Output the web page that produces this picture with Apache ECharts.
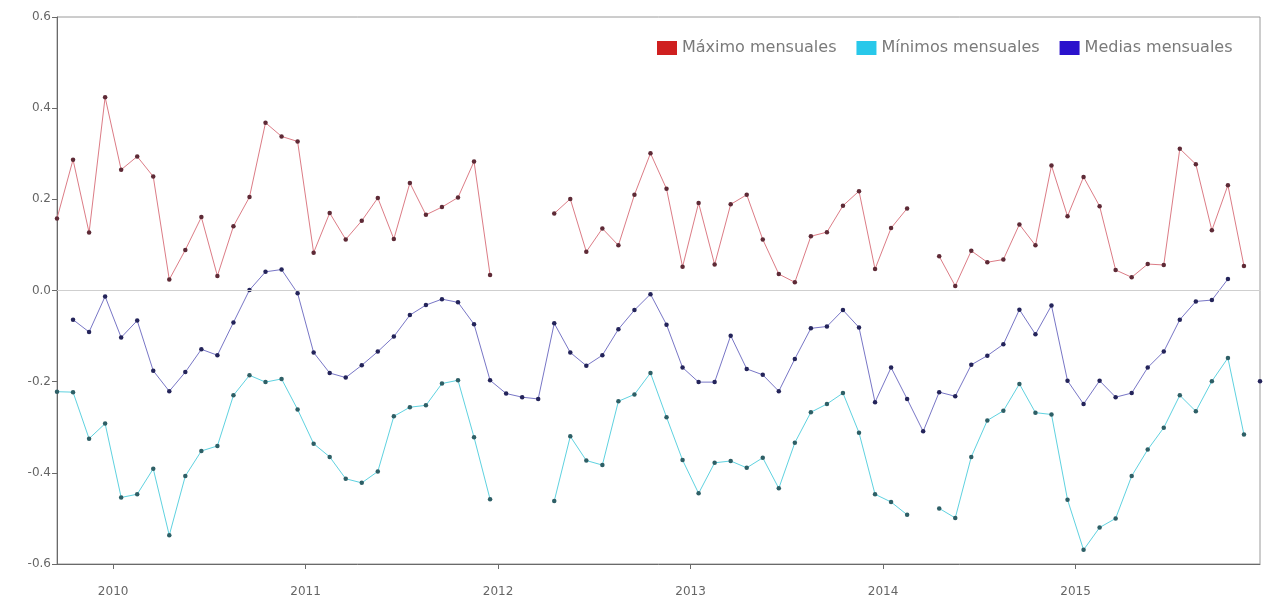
<!DOCTYPE html>
<html>
<head>
<meta charset="utf-8">
<script src="https://cdn.jsdelivr.net/npm/echarts@6/dist/echarts.min.js"></script>
<style>
html,body{margin:0;padding:0;background:#fff;}
#chart{width:1265px;height:608px;}
</style>
</head>
<body>
<div id="chart"></div>
<script>
// Monthly categories (Sep 2009 – Dec 2015)
const months = [
  '2009-09','2009-10','2009-11','2009-12',
  '2010-01','2010-02','2010-03','2010-04','2010-05','2010-06','2010-07','2010-08','2010-09','2010-10','2010-11','2010-12',
  '2011-01','2011-02','2011-03','2011-04','2011-05','2011-06','2011-07','2011-08','2011-09','2011-10','2011-11','2011-12',
  '2012-01','2012-02','2012-03','2012-04','2012-05','2012-06','2012-07','2012-08','2012-09','2012-10','2012-11','2012-12',
  '2013-01','2013-02','2013-03','2013-04','2013-05','2013-06','2013-07','2013-08','2013-09','2013-10','2013-11','2013-12',
  '2014-01','2014-02','2014-03','2014-04','2014-05','2014-06','2014-07','2014-08','2014-09','2014-10','2014-11','2014-12',
  '2015-01','2015-02','2015-03','2015-04','2015-05','2015-06','2015-07','2015-08','2015-09','2015-10','2015-11','2015-12'
];

const maxMensual = [
  0.158, 0.287, 0.127, 0.424,
  0.265, 0.294, 0.250, 0.024, 0.089, 0.161, 0.032, 0.141, 0.205, 0.368, 0.338, 0.327,
  0.083, 0.170, 0.112, 0.153, 0.203, 0.113, 0.236, 0.166, 0.183, 0.204, 0.283, 0.034,
  null, null, null, 0.169, 0.201, 0.085, 0.136, 0.099, 0.210, 0.301, 0.223, 0.052,
  0.192, 0.057, 0.189, 0.210, 0.112, 0.036, 0.018, 0.119, 0.128, 0.186, 0.218, 0.047,
  0.137, 0.180, null, 0.075, 0.010, 0.087, 0.062, 0.068, 0.145, 0.099, 0.274, 0.163,
  0.249, 0.185, 0.045, 0.029, 0.058, 0.056, 0.311, 0.277, 0.132, 0.231, 0.054, null
];

const minMensual = [
  -0.222, -0.223, -0.325, -0.292,
  -0.454, -0.447, -0.391, -0.537, -0.407, -0.352, -0.341, -0.230, -0.186, -0.201, -0.194, -0.261,
  -0.336, -0.365, -0.413, -0.422, -0.397, -0.276, -0.256, -0.252, -0.204, -0.197, -0.322, -0.458,
  null, null, null, -0.462, -0.320, -0.373, -0.383, -0.243, -0.228, -0.181, -0.278, -0.372,
  -0.445, -0.378, -0.374, -0.389, -0.367, -0.434, -0.334, -0.267, -0.249, -0.225, -0.312, -0.447,
  -0.464, -0.492, null, -0.478, -0.499, -0.365, -0.285, -0.264, -0.205, -0.268, -0.272, -0.459,
  -0.569, -0.520, -0.500, -0.407, -0.349, -0.301, -0.230, -0.265, -0.199, -0.148, -0.316, null
];

const mediaMensual = [
  null, -0.064, -0.091, -0.013,
  -0.103, -0.066, -0.176, -0.221, -0.179, -0.129, -0.142, -0.070, 0.001, 0.041, 0.046, -0.006,
  -0.136, -0.181, -0.191, -0.164, -0.134, -0.101, -0.054, -0.032, -0.019, -0.026, -0.074, -0.197,
  -0.226, -0.234, -0.238, -0.072, -0.136, -0.165, -0.142, -0.085, -0.043, -0.008, -0.075, -0.169,
  -0.201, -0.201, -0.099, -0.172, -0.185, -0.221, -0.150, -0.083, -0.079, -0.043, -0.081, -0.245,
  -0.169, -0.238, -0.309, -0.223, -0.232, -0.163, -0.143, -0.118, -0.042, -0.096, -0.033, -0.198,
  -0.249, -0.198, -0.234, -0.225, -0.169, -0.134, -0.064, -0.024, -0.021, 0.025, null, -0.199
];

const yearTicks = [2010, 2011, 2012, 2013, 2014, 2015];
const yTicks = [-0.6, -0.4, -0.2, 0.0, 0.2, 0.4, 0.6];

const seriesNames = ['Máximo mensuales', 'Mínimos mensuales', 'Medias mensuales'];

// month label -> fractional year at mid-month
function monthPos(m) {
  const p = m.split('-');
  return Number(p[0]) + (Number(p[1]) - 0.5) / 12;
}
function pairs(vals) {
  return months.map((m, i) => [monthPos(m), vals[i]]);
}

const chart = echarts.init(document.getElementById('chart'));
const FONT = 'DejaVu Sans';

function lineSeries(name, vals, lineColor, dotColor) {
  return {
    name: name,
    type: 'line',
    data: pairs(vals),
    symbol: 'circle',
    symbolSize: 4.5,
    showSymbol: true,
    showAllSymbol: true,
    connectNulls: false,
    lineStyle: { color: lineColor, width: 1 },
    itemStyle: { color: dotColor, borderWidth: 0 },
    emphasis: { disabled: true }
  };
}

const series = [
  lineSeries(seriesNames[0], maxMensual, '#dc7c86', '#5e2a36'),
  lineSeries(seriesNames[1], minMensual, '#5fd2e0', '#2e5f66'),
  lineSeries(seriesNames[2], mediaMensual, '#7876c6', '#24245a')
];
series[2].markLine = {
  silent: true,
  symbol: 'none',
  label: { show: false },
  lineStyle: { color: '#cfcfcf', width: 1, type: 'solid' },
  data: [{ yAxis: 0 }]
};

chart.setOption({
  animation: false,
  backgroundColor: '#ffffff',
  grid: {
    left: 57, right: 5, top: 17, bottom: 44,
    show: true, borderColor: '#9a9a9a', borderWidth: 1, backgroundColor: 'transparent'
  },
  legend: {
    left: 657, top: 40, padding: 0,
    icon: 'rect', itemWidth: 20, itemHeight: 14, itemGap: 20,
    textStyle: { color: '#7a7a7a', fontSize: 16, fontFamily: FONT },
    data: [
      { name: seriesNames[0], itemStyle: { color: '#cf2020', borderWidth: 0 } },
      { name: seriesNames[1], itemStyle: { color: '#28c8ea', borderWidth: 0 } },
      { name: seriesNames[2], itemStyle: { color: '#2a12cc', borderWidth: 0 } }
    ]
  },
  xAxis: {
    type: 'value',
    min: monthPos(months[0]),
    max: monthPos(months[months.length - 1]),
    splitLine: { show: false },
    axisLine: { onZero: false, lineStyle: { color: '#6a6a6a' } },
    axisTick: { show: true, length: 5, customValues: yearTicks, lineStyle: { color: '#6a6a6a' } },
    axisLabel: {
      customValues: yearTicks,
      margin: 22,
      color: '#666', fontSize: 12, fontFamily: FONT,
      formatter: v => String(Math.round(v))
    }
  },
  yAxis: {
    type: 'value',
    min: -0.6, max: 0.6, interval: 0.2,
    splitLine: { show: false },
    axisLine: { show: true, onZero: false, lineStyle: { color: '#6a6a6a' } },
    axisTick: { show: true, length: 5, customValues: yTicks, lineStyle: { color: '#6a6a6a' } },
    axisLabel: {
      customValues: yTicks,
      margin: 6,
      color: '#666', fontSize: 12, fontFamily: FONT,
      formatter: v => (Math.abs(v) < 1e-9 ? 0 : v).toFixed(1)
    }
  },
  series: series
});
</script>
</body>
</html>
